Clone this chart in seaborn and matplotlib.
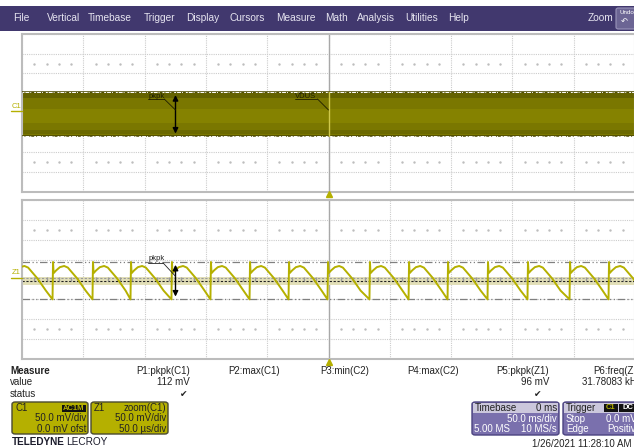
import matplotlib
matplotlib.use('Agg')
import matplotlib.pyplot as plt
import numpy as np
import pandas as pd
import seaborn as sns
from matplotlib.lines import Line2D
from matplotlib.patches import Rectangle, FancyBboxPatch

# ---- values ----
menu_items = ['File', 'Vertical', 'Timebase', 'Trigger', 'Display', 'Cursors',
              'Measure', 'Math', 'Analysis', 'Utilities', 'Help']
menu_x_px = [13, 47, 88, 144, 186, 230, 276, 325, 357, 405, 448]

# C1 (50 mV/div, 50 ms/div): the trace is a solid noise band
c1_band_top_mv = 52
c1_band_bot_mv = -60

# Z1 = zoom(C1), 50 mV/div, 50 us/div: trough times and one period's shape
z1_trough_us = [-257.5, -225.1, -192.5, -161.5, -128.1, -96.3, -64.4, -32.6,
                -0.8, 33.4, 65.3, 97.1, 129.7, 162.3, 196.6, 228.4]
z1_shape_dt_us = [0.0, 0.4, 0.9, 3.0, 6.0, 9.5, 12.5, 20.0, 27.0]
z1_shape_mv = [-50, 44, 16, 23, 31, 34, 30, 3, -28]
z1_max_mv = 44
z1_min_mv = -50
z1_mean_mv = -4
z1_hilite_mv = (-14, 6)

cursor_t = -124.8

meas_headers = ['P1:pkpk(C1)', 'P2:max(C1)', 'P3:min(C2)', 'P4:max(C2)',
                'P5:pkpk(Z1)', 'P6:freq(Z1)']
meas_values = ['112 mV', '', '', '', '96 mV', '31.78083 kHz']
meas_status = ['\u2714', '', '', '', '\u2714', '']
meas_right_px = [190, 280, 369, 459, 549, 642]
status_x_px = [184, 0, 0, 0, 538, 0]

W, H = 634, 448
OLIVE = '#b5b000'


def fx(x):
    return x / W


def fy(y):
    return 1 - y / H


def scope_grid(ax):
    ax.set_xlim(-250, 250)
    ax.set_ylim(-200, 200)
    ax.set_xticks(np.arange(-250, 251, 50))
    ax.set_yticks(np.arange(-200, 201, 50))
    ax.tick_params(length=0, labelbottom=False, labelleft=False)
    ax.grid(True, color='#cccccc', ls=(0, (1, 1)), lw=0.8)
    ax.axvline(0, color='#a8a8a8', lw=1.0, zorder=1)
    ax.set_xlabel('')
    ax.set_ylabel('')
    for s in ax.spines.values():
        s.set_color('#bcbcbc')
        s.set_linewidth(1.5)
    xs = [v for v in np.arange(-250, 250.1, 10) if abs(v % 50) > 1e-6]
    for yy in (125, -125):
        ax.plot(xs, [yy] * len(xs), ls='none', marker='s', ms=0.7,
                color='#bdbdbd', zorder=1)


def box_text(x, y, s, ha='left', color='#222222', size=7, weight='normal', **kw):
    fig.text(fx(x), fy(y), s, ha=ha, va='center', color=color,
             fontsize=size, fontweight=weight, **kw)


sns.set_theme(style='white')
plt.rcParams['font.family'] = ['Liberation Sans', 'DejaVu Sans']

fig = plt.figure(figsize=(6.34, 4.48), dpi=100)
fig.patch.set_facecolor('white')

# ---- menu bar ----
fig.add_artist(Rectangle((0, fy(31)), 1, (31 - 6) / H, transform=fig.transFigure,
                         facecolor='#41386e', edgecolor='none'))
for name, x in zip(menu_items, menu_x_px):
    box_text(x, 18, name, color='#e6e4f0', size=7.3)
box_text(588, 18, 'Zoom', color='#e6e4f0', size=7.3)
fig.add_artist(FancyBboxPatch((fx(616), fy(29)), 20 / W, 21 / H,
                              boxstyle='round,pad=0,rounding_size=0.004',
                              transform=fig.transFigure, facecolor='#6c6594',
                              edgecolor='#9a94ba', lw=0.8))
box_text(619, 13, 'Undo', color='white', size=4.5)
box_text(621, 22, '\u21b6', color='white', size=6)

# ---- top panel: C1 ----
ax1 = fig.add_axes([fx(22), fy(191.5), 613 / W, (191.5 - 34) / H])
scope_grid(ax1)
band = pd.DataFrame({'t': [-250, 250], 'top': c1_band_top_mv, 'bot': c1_band_bot_mv})
span = c1_band_top_mv - c1_band_bot_mv
ax1.fill_between(band['t'], band['bot'], band['top'], color='#7a7700', lw=0, zorder=2)
ax1.fill_between(band['t'], band['top'] - 0.14 * span, band['top'], color='#646200', lw=0, zorder=2)
ax1.fill_between(band['t'], band['bot'] + 0.3 * span, band['bot'] + 0.62 * span,
                 color='#858200', lw=0, zorder=2)
ax1.fill_between(band['t'], band['bot'] + 0.05 * span, band['bot'] + 0.14 * span,
                 color='#6b6900', lw=0, zorder=2)
for lvl in (c1_band_top_mv, c1_band_bot_mv):
    ax1.axhline(lvl, color='#4a4800', lw=1.1, zorder=3)
    ax1.axhline(lvl, color='white', lw=0.7, dashes=(2, 1, 4, 1, 1, 3), zorder=3)
ax1.plot([0, 0], [c1_band_bot_mv, c1_band_top_mv], color='#cfc84a', lw=1, zorder=3)
ax1.annotate('', xy=(cursor_t, c1_band_top_mv), xytext=(cursor_t, c1_band_bot_mv),
             arrowprops=dict(arrowstyle='<|-|>', color='black', lw=1, mutation_scale=8),
             zorder=5)
ax1.text(-147, 42, 'pkpk', fontsize=5.5, color='#1e1e00', va='center', zorder=5)
ax1.plot([-147, -134], [35, 35], color='#1e1e00', lw=0.6, zorder=5)
ax1.plot([-134, cursor_t], [35, 7], color='#1e1e00', lw=0.6, zorder=5)
ax1.text(-27, 42, 'VDUS', fontsize=5.5, color='#1e1e00', va='center', zorder=5)
ax1.plot([-27, -9], [35, 35], color='#1e1e00', lw=0.6, zorder=5)
ax1.plot([-9, 0], [35, 7], color='#1e1e00', lw=0.6, zorder=5)

# ---- bottom panel: Z1 ----
ax2 = fig.add_axes([fx(22), fy(359), 613 / W, (359 - 200) / H])
scope_grid(ax2)
ax2.axhspan(*z1_hilite_mv, color='#e2dfb8', lw=0, zorder=1)
ax2.axhline(-z1_mean_mv, color='#9a9a9a', lw=0.8, ls=(0, (2, 1.5)), zorder=2)
ax2.axhline(z1_mean_mv, color='#202020', lw=0.8, ls=(0, (2, 1.5)), zorder=2)
tx = [v for v in np.arange(-250, 250.1, 10) if abs(v % 50) > 1e-6]
ax2.plot(tx, [2] * len(tx), ls='none', marker='|', ms=3, color='#9a9a9a', zorder=2)
for lvl in (z1_max_mv, z1_min_mv):
    ax2.axhline(lvl, color='#808080', lw=0.9, dashes=(6, 2, 1, 2, 1, 2), zorder=2)

rows = []
for t0 in z1_trough_us:
    for dt, mv in zip(z1_shape_dt_us, z1_shape_mv):
        rows.append({'t': t0 + dt, 'mv': mv})
z1 = pd.DataFrame(rows)
sns.lineplot(data=z1, x='t', y='mv', ax=ax2, sort=False, estimator=None,
             color=OLIVE, lw=1.4, zorder=4)
ax2.set_xlabel('')
ax2.set_ylabel('')
ax2.set_xlim(-250, 250)
ax2.annotate('', xy=(cursor_t, z1_max_mv), xytext=(cursor_t, z1_min_mv),
             arrowprops=dict(arrowstyle='<|-|>', color='black', lw=1, mutation_scale=8),
             zorder=5)
ax2.text(-147, 52, 'pkpk', fontsize=5.5, color='#222222', va='center', zorder=5)
ax2.plot([-147, -135], [42, 42], color='#222222', lw=0.6, zorder=5)
ax2.plot([-135, cursor_t], [42, 8], color='#222222', lw=0.6, zorder=5)

# channel offset markers
box_text(12, 106, 'C1', color=OLIVE, size=5.5)
fig.add_artist(Line2D([fx(11), fx(22)], [fy(111), fy(111)], color=OLIVE, lw=1))
box_text(12, 273, 'Z1', color=OLIVE, size=5.5)
fig.add_artist(Line2D([fx(11), fx(22)], [fy(278), fy(278)], color=OLIVE, lw=1))

# trigger markers
fig.add_artist(Line2D([fx(329)], [fy(194)], marker='^', ms=5, color=OLIVE, ls='none'))
fig.add_artist(Line2D([fx(329)], [fy(362)], marker='^', ms=5, color=OLIVE, ls='none'))

# ---- measurement table ----
box_text(10, 371, 'Measure', weight='bold', size=7)
box_text(10, 382, 'value', size=7)
box_text(10, 394, 'status', size=7)
for hdr, val, st, xr, xs_ in zip(meas_headers, meas_values, meas_status,
                                 meas_right_px, status_x_px):
    box_text(xr, 371, hdr, ha='right', size=7)
    if val:
        box_text(xr, 382, val, ha='right', size=7)
    if st:
        box_text(xs_, 394, st, ha='center', size=6.5)


def panel(x0, y0, x1, y1, face, edge):
    fig.add_artist(FancyBboxPatch((fx(x0), fy(y1)), (x1 - x0) / W, (y1 - y0) / H,
                                  boxstyle='round,pad=0,rounding_size=0.005',
                                  transform=fig.transFigure, facecolor=face,
                                  edgecolor=edge, lw=1))


def badge(x0, x1, y0, y1, s, color):
    fig.add_artist(Rectangle((fx(x0), fy(y1)), (x1 - x0) / W, (y1 - y0) / H,
                             transform=fig.transFigure, facecolor='#111111',
                             edgecolor='none'))
    box_text((x0 + x1) / 2, (y0 + y1) / 2, s, ha='center', color=color, size=5.5,
             weight='bold')


# C1 / Z1 descriptor boxes
panel(12, 402, 88, 434, OLIVE, '#4a4a30')
box_text(15, 408, 'C1', size=7)
badge(62, 86, 404.5, 411.5, 'AC1M', OLIVE)
box_text(86, 418, '50.0 mV/div', ha='right', size=7)
box_text(86, 428.5, '0.0 mV ofst', ha='right', size=7)
panel(91, 402, 168, 434, OLIVE, '#4a4a30')
box_text(94, 408, 'Z1', size=7)
box_text(166, 408, 'zoom(C1)', ha='right', size=7)
box_text(166, 418, '50.0 mV/div', ha='right', size=7)
box_text(166, 428.5, '50.0 \u00b5s/div', ha='right', size=7)

fig.text(fx(12), fy(441.5), 'TELEDYNE', fontsize=7.2, fontweight='bold',
         color='#1c1c2c', va='center')
fig.text(fx(66), fy(441.5), 'LECROY', fontsize=7.2, color='#1c1c2c', va='center')

# timebase / trigger boxes
panel(472, 402, 559, 435, '#7a70ad', '#4b4380')
fig.add_artist(Rectangle((fx(473), fy(412.5)), 85 / W, 10 / H, transform=fig.transFigure,
                         facecolor='#cbc7dc', edgecolor='none'))
box_text(475, 408, 'Timebase', size=7)
box_text(557, 408, '0 ms', ha='right', size=7)
box_text(557, 419, '50.0 ms/div', ha='right', color='white', size=7)
box_text(474, 429, '5.00 MS', color='white', size=7)
box_text(557, 429, '10 MS/s', ha='right', color='white', size=7)

panel(563, 402, 645, 435, '#7a70ad', '#4b4380')
fig.add_artist(Rectangle((fx(564), fy(412.5)), 80 / W, 10 / H, transform=fig.transFigure,
                         facecolor='#cbc7dc', edgecolor='none'))
box_text(566, 408, 'Trigger', size=7)
badge(604, 618, 404, 411.5, 'C1', OLIVE)
badge(619, 636, 404, 411.5, 'DC', 'white')
box_text(566, 419, 'Stop', color='white', size=7)
box_text(637, 419, '0.0 mV', ha='right', color='white', size=7)
box_text(566, 429, 'Edge', color='white', size=7)
box_text(641, 429, 'Positive', ha='right', color='white', size=7)

box_text(631, 443.5, '1/26/2021 11:28:10 AM', ha='right', size=7)

fig.savefig('out.png', dpi=100)
